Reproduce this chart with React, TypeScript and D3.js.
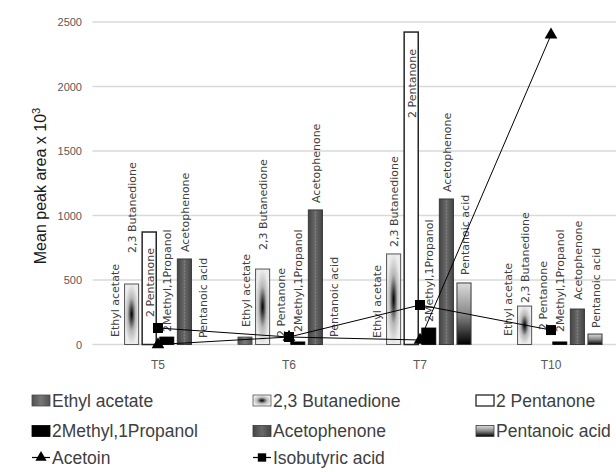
import React from 'react';
import * as d3 from 'd3';

const categories = ['T5', 'T6', 'T7', 'T10'];
const barSeries = ['Ethyl acetate', '2,3 Butanedione', '2 Pentanone', '2Methyl,1Propanol', 'Acetophenone', 'Pentanoic acid'];
const ethylAcetate = [0, 58, 0, 0];
const butanedione = [469, 585, 702, 298];
const pentanone = [872, 0, 2422, 0];
const methylPropanol = [58, 20, 128, 20];
const acetophenone = [663, 1043, 1128, 275];
const pentanoicAcid = [0, 0, 477, 81];
const acetoin = [0, 58, 35, 2400];
const isobutyricAcid = [128, 58, 306, 112];
// where each rotated series-name label begins (data units)
const labelEthyl = [58, 136, 50, 66];
const labelButa = [709, 733, 756, 322];
const labelPent = [213, 58, 1756, 112];
const labelMeth = [97, 97, 174, 97];
const labelAceto = [717, 1097, 1182, 345];
const labelPentanoic = [50, 58, 539, 128];
const yTicks = [0, 500, 1000, 1500, 2000, 2500];

const barValues = [ethylAcetate, butanedione, pentanone, methylPropanol, acetophenone, pentanoicAcid];
const labelValues = [labelEthyl, labelButa, labelPent, labelMeth, labelAceto, labelPentanoic];
const fills = ['url(#gEthyl)', 'url(#gButa)', '#ffffff', '#000000', 'url(#gAceto)', 'url(#gPentanoic)'];
const strokes = ['#4a4a4a', '#555555', '#262626', '#000000', '#3a3a3a', '#3a3a3a'];
const strokeW = [0.8, 1, 1.5, 0.8, 1, 1];

export default function App() {
  const W = 616, H = 472;
  const x0 = d3.scaleBand().domain(categories).range([92.5, 616.5]).padding(0);
  const groupW = 105.6;
  const x1 = d3.scaleBand().domain(barSeries).range([-groupW / 2, groupW / 2]).paddingInner(0.2).paddingOuter(0.1);
  const y = d3.scaleLinear().domain([0, 2500]).range([344.5, 22]);
  const cx = (c: string) => (x0(c) as number) + x0.bandwidth() / 2;
  const line = d3.line<number>().x((_, i) => cx(categories[i])).y(v => y(v));
  const bw = x1.bandwidth();
  const tri = d3.symbol().type(d3.symbolTriangle).size(70)();
  const sq = d3.symbol().type(d3.symbolSquare).size(100)();
  const triL = d3.symbol().type(d3.symbolTriangle).size(55)();
  const sqL = d3.symbol().type(d3.symbolSquare).size(70)();

  const legendItems = [
    { name: 'Ethyl acetate', kind: 'bar', i: 0 },
    { name: '2,3 Butanedione', kind: 'bar', i: 1 },
    { name: '2 Pentanone', kind: 'bar', i: 2 },
    { name: '2Methyl,1Propanol', kind: 'bar', i: 3 },
    { name: 'Acetophenone', kind: 'bar', i: 4 },
    { name: 'Pentanoic acid', kind: 'bar', i: 5 },
    { name: 'Acetoin', kind: 'tri', i: 6 },
    { name: 'Isobutyric acid', kind: 'sq', i: 7 },
  ];
  const legX = [32, 253, 476];
  const legY = [400.5, 431, 457.5];

  return (
    <svg width={W} height={H} style={{ position: 'absolute', left: 0, top: 0, background: '#fff' }}>
      <defs>
        <linearGradient id="gEthyl" x1="0" y1="0" x2="1" y2="0">
          <stop offset="0" stopColor="#505050" />
          <stop offset="0.5" stopColor="#787878" />
          <stop offset="1" stopColor="#505050" />
        </linearGradient>
        <radialGradient id="gButa" cx="0.5" cy="0.5" r="0.5">
          <stop offset="0" stopColor="#000000" />
          <stop offset="0.15" stopColor="#303030" />
          <stop offset="0.55" stopColor="#b8b8b8" />
          <stop offset="1" stopColor="#ececec" />
        </radialGradient>
        <linearGradient id="gAceto" x1="0" y1="0" x2="1" y2="0">
          <stop offset="0" stopColor="#444444" />
          <stop offset="0.5" stopColor="#6a6a6a" />
          <stop offset="1" stopColor="#444444" />
        </linearGradient>
        <linearGradient id="gPentanoic" x1="0" y1="0" x2="0" y2="1">
          <stop offset="0" stopColor="#dcdcdc" />
          <stop offset="0.5" stopColor="#8a8a8a" />
          <stop offset="1" stopColor="#000000" />
        </linearGradient>
      </defs>

      {/* gridlines */}
      {yTicks.map(t => (
        <line key={t} x1={92.5} x2={616} y1={y(t)} y2={y(t)} stroke="#d9d9d9" strokeWidth={1.3} />
      ))}
      {yTicks.map(t => (
        <text key={'t' + t} x={82} y={y(t)} textAnchor="end" dominantBaseline="central"
          fontFamily="Liberation Sans, Arial, sans-serif" fontSize={11} fill="#595959">{t}</text>
      ))}
      <text transform={`translate(46,186) rotate(-90)`} textAnchor="middle"
        fontFamily="Liberation Sans, Arial, sans-serif" fontSize={16} fill="#1a1a1a">
        Mean peak area x 10<tspan fontSize={11} dy={-6}>3</tspan>
      </text>
      {categories.map(c => (
        <text key={c} x={cx(c)} y={365} textAnchor="middle" dominantBaseline="central"
          fontFamily="Liberation Sans, Arial, sans-serif" fontSize={12} fill="#595959">{c}</text>
      ))}

      {/* bars */}
      {categories.map((c, ci) => (
        <g key={c}>
          {barSeries.map((s, si) => {
            const v = barValues[si][ci];
            if (v <= 0) return null;
            const bx = cx(c) + (x1(s) as number);
            return (
              <g key={s}>
                <rect x={bx} y={y(v)} width={bw} height={y(0) - y(v)} fill={fills[si]} stroke={strokes[si]} strokeWidth={strokeW[si]} />
                {si === 4 && (
                  <line x1={bx + bw / 2} x2={bx + bw / 2} y1={y(v) + 2} y2={y(0)} stroke="#8c8c8c" strokeWidth={1} strokeDasharray="1.2,2" />
                )}
              </g>
            );
          })}
        </g>
      ))}

      {/* series-name labels */}
      {categories.map((c, ci) => (
        <g key={'l' + c}>
          {barSeries.map((s, si) => {
            const lx = cx(c) + (x1(s) as number) + bw / 2 + 1;
            const ly = y(labelValues[si][ci]);
            return (
              <text key={s} transform={`translate(${lx},${ly}) rotate(-90)`} dominantBaseline="central"
                fontFamily="DejaVu Sans, sans-serif" fontSize={11} fill="#404040">{s}</text>
            );
          })}
        </g>
      ))}

      {/* lines */}
      <path d={line(acetoin) || ''} fill="none" stroke="#000" strokeWidth={1} />
      <path d={line(isobutyricAcid) || ''} fill="none" stroke="#000" strokeWidth={1} />
      {acetoin.map((v, i) => (
        <path key={'a' + i} d={tri || ''} transform={`translate(${cx(categories[i])},${y(v)})`} fill="#000" />
      ))}
      {isobutyricAcid.map((v, i) => (
        <path key={'b' + i} d={sq || ''} transform={`translate(${cx(categories[i])},${y(v)})`} fill="#000" />
      ))}

      {/* legend */}
      {legendItems.map((it, k) => {
        const lx = legX[k % 3];
        const ly = legY[Math.floor(k / 3)];
        return (
          <g key={it.name}>
            {it.kind === 'bar' && (
              <rect x={lx} y={ly - 5.5} width={18} height={11} fill={fills[it.i]} stroke={strokes[it.i]} strokeWidth={it.i === 2 ? 1.3 : 0.8} />
            )}
            {it.kind !== 'bar' && (
              <g>
                <line x1={lx} x2={lx + 18} y1={ly} y2={ly} stroke="#000" strokeWidth={1.2} />
                <path d={(it.kind === 'tri' ? triL : sqL) || ''} transform={`translate(${lx + 9},${ly})`} fill="#000" />
              </g>
            )}
            <text x={lx + 20} y={ly} dominantBaseline="central"
              fontFamily="Liberation Sans, Arial, sans-serif" fontSize={17.5} fill="#404040">{it.name}</text>
          </g>
        );
      })}
    </svg>
  );
}
